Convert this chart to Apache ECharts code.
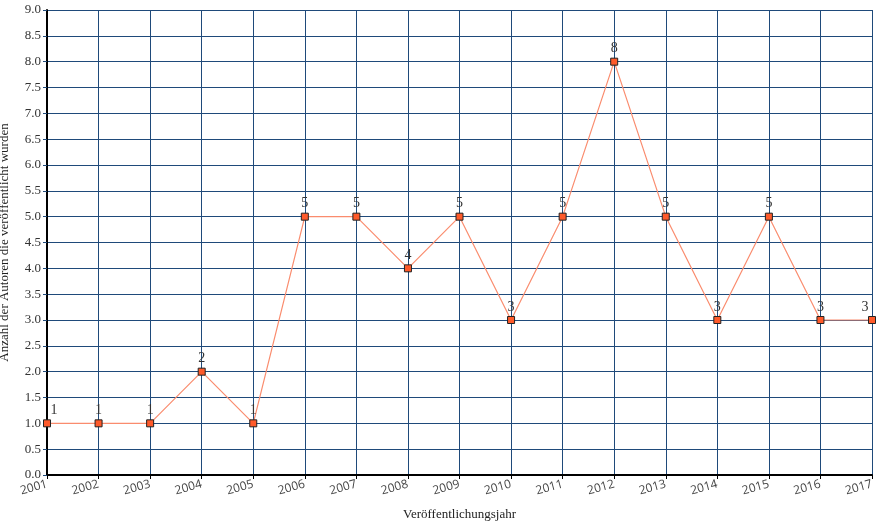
<!DOCTYPE html>
<html>
<head>
<meta charset="utf-8">
<script src="https://cdn.jsdelivr.net/npm/echarts@6/dist/echarts.min.js"></script>
<style>
  html, body { margin: 0; padding: 0; background: #fff; }
  #chart { width: 877px; height: 524px; }
</style>
</head>
<body>
<div id="chart"></div>
<script>
const years = ['2001', '2002', '2003', '2004', '2005', '2006', '2007', '2008', '2009',
  '2010', '2011', '2012', '2013', '2014', '2015', '2016', '2017']
const authors = [1, 1, 1, 2, 1, 5, 5, 4, 5, 3, 5, 8, 5, 3, 5, 3, 3]

const font = '"Liberation Serif", "DejaVu Serif", serif'
const gridColor = '#1f4a7a'

const chart = echarts.init(document.getElementById('chart'))
chart.setOption({
  animation: false,
  grid: { left: 47, right: 5, top: 10, bottom: 49, containLabel: false, outerBoundsMode: 'none' },
  xAxis: {
    type: 'category',
    data: years,
    boundaryGap: false,
    name: 'Veröffentlichungsjahr',
    nameLocation: 'middle',
    nameGap: 33,
    nameTextStyle: { fontFamily: font, fontSize: 13, color: '#222' },
    axisLine: { lineStyle: { color: '#000', width: 2 } },
    axisTick: { alignWithLabel: true, length: 4, lineStyle: { color: '#000' } },
    axisLabel: { rotate: 15, fontFamily: '"Open Sans", sans-serif', fontSize: 12, color: '#444', margin: 9 },
    splitLine: { show: true, lineStyle: { color: gridColor, width: 1 } }
  },
  yAxis: {
    type: 'value',
    min: 0,
    max: 9,
    interval: 0.5,
    name: 'Anzahl der Autoren die veröffentlicht wurden',
    nameLocation: 'middle',
    nameGap: 36,
    nameTextStyle: { fontFamily: font, fontSize: 13, color: '#222' },
    axisLine: { show: true, lineStyle: { color: '#000', width: 2 } },
    axisTick: { show: true, length: 4, lineStyle: { color: gridColor } },
    axisLabel: { fontFamily: font, fontSize: 13, color: '#333', margin: 6,
      formatter: v => v.toFixed(1) },
    splitLine: { lineStyle: { color: gridColor, width: 1 } }
  },
  series: [{
    type: 'line',
    data: authors.map((v, i) => {
      const item = { value: v }
      if (i === 0) item.label = { offset: [7, 0] }
      if (i === authors.length - 1) item.label = { offset: [-7, 0] }
      return item
    }),
    symbol: 'rect',
    symbolSize: 7,
    lineStyle: { color: '#fa8c6e', width: 1.2 },
    itemStyle: { color: '#ff5a2a', borderColor: '#222', borderWidth: 1 },
    label: { show: true, position: 'top', distance: 2, fontFamily: font, fontSize: 14, color: '#333' }
  }]
})
</script>
</body>
</html>
